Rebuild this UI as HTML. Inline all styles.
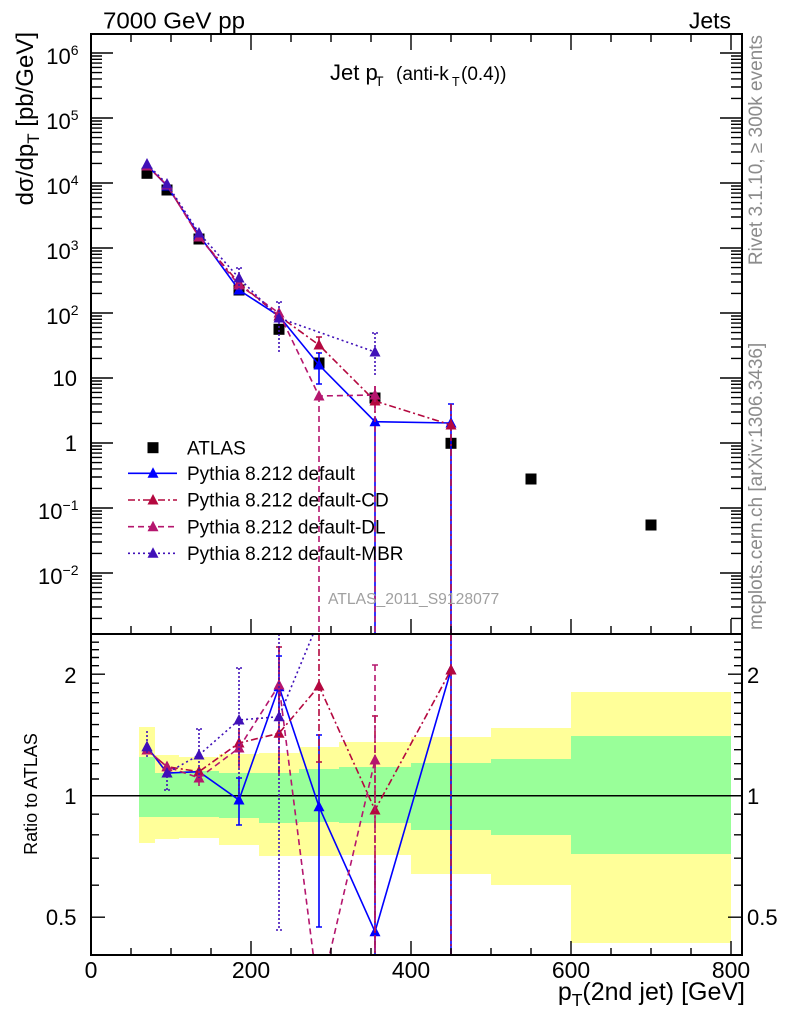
<!DOCTYPE html>
<html>
<head>
<meta charset="utf-8">
<style>
html,body{margin:0;padding:0;background:#fff;}
svg{display:block;}
</style>
</head>
<body>
<svg width="786" height="1024" viewBox="0 0 786 1024" xmlns="http://www.w3.org/2000/svg" xmlns:xlink="http://www.w3.org/1999/xlink" font-family="'Liberation Sans', Arial, sans-serif">
<defs>
  <clipPath id="cm"><rect x="91" y="34" width="651" height="600"/></clipPath>
  <clipPath id="cr"><rect x="91" y="634" width="651" height="321"/></clipPath>
  <path id="decL" d="M0 0h22M0 -19.6h11M0 -31h11M0 -39.1h11M0 -45.4h11M0 -50.6h11M0 -54.9h11M0 -58.7h11M0 -62h11" stroke="#000" stroke-width="1.4" fill="none"/>
  <path id="decR" d="M0 0h-22M0 -19.6h-11M0 -31h-11M0 -39.1h-11M0 -45.4h-11M0 -50.6h-11M0 -54.9h-11M0 -58.7h-11M0 -62h-11" stroke="#000" stroke-width="1.4" fill="none"/>
</defs>

<!-- ===== Ratio bands ===== -->
<g>
  <rect x="139" y="727" width="16" height="116" fill="#ffff99"/>
  <rect x="155" y="755" width="24" height="84" fill="#ffff99"/>
  <rect x="179" y="757" width="40" height="81" fill="#ffff99"/>
  <rect x="219" y="754" width="40" height="91" fill="#ffff99"/>
  <rect x="259" y="753" width="40" height="103" fill="#ffff99"/>
  <rect x="299" y="747" width="40" height="109" fill="#ffff99"/>
  <rect x="339" y="742" width="72" height="113" fill="#ffff99"/>
  <rect x="411" y="737" width="80" height="137" fill="#ffff99"/>
  <rect x="491" y="728" width="80" height="157" fill="#ffff99"/>
  <rect x="571" y="692" width="160" height="251" fill="#ffff99"/>

  <rect x="139" y="757" width="16" height="60" fill="#99ff99"/>
  <rect x="155" y="773" width="24" height="44" fill="#99ff99"/>
  <rect x="179" y="771" width="40" height="46" fill="#99ff99"/>
  <rect x="219" y="773" width="40" height="45" fill="#99ff99"/>
  <rect x="259" y="773" width="40" height="50" fill="#99ff99"/>
  <rect x="299" y="769" width="40" height="53" fill="#99ff99"/>
  <rect x="339" y="767" width="72" height="56" fill="#99ff99"/>
  <rect x="411" y="763" width="80" height="67" fill="#99ff99"/>
  <rect x="491" y="759" width="80" height="76" fill="#99ff99"/>
  <rect x="571" y="736" width="160" height="118" fill="#99ff99"/>
</g>
<line x1="91" y1="795.7" x2="742" y2="795.7" stroke="#000" stroke-width="1.5"/>

<!-- ===== Main panel series ===== -->
<g clip-path="url(#cm)" fill="none" stroke-width="1.6">
  <g fill="#000" stroke="none">
    <rect x="141.5" y="167.8" width="11" height="11"/>
    <rect x="161.5" y="184.5" width="11" height="11"/>
    <rect x="193.5" y="233.5" width="11" height="11"/>
    <rect x="233.5" y="284.5" width="11" height="11"/>
    <rect x="273.5" y="323.8" width="11" height="11"/>
    <rect x="313.5" y="357.5" width="11" height="11"/>
    <rect x="369.5" y="392.5" width="11" height="11"/>
    <rect x="445.5" y="437.8" width="11" height="11"/>
    <rect x="525.5" y="473.5" width="11" height="11"/>
    <rect x="645.5" y="519.5" width="11" height="11"/>
  </g>
  <path d="M147 165L167 186L199 235L239 290L279 316L319 365L375 421.7L451 423" stroke="#0000ff"/>
  <path d="M319 353V384M316 353h6M316 384h6M375 421V634M451 404V634M448 404h6" stroke="#0000ff"/>
  <path d="M147 159l5.5 10.5h-11zM167 180l5.5 10.5h-11zM199 229l5.5 10.5h-11zM239 284l5.5 10.5h-11zM279 310l5.5 10.5h-11zM319 359l5.5 10.5h-11zM375 415.7l5.5 10.5h-11zM451 417l5.5 10.5h-11z" fill="#0000ff" stroke="none"/>
  <path d="M147 166L167 185L199 237L239 283L279 316L319 345L375 401L451 425" stroke="#b4083f" stroke-dasharray="7,3,2,3"/>
  <path d="M319 337V353M316 337h6M375 386V416M451 404V634" stroke="#b4083f" stroke-dasharray="7,3,2,3"/>
  <path d="M147 160l5.5 10.5h-11zM167 179l5.5 10.5h-11zM199 231l5.5 10.5h-11zM239 277l5.5 10.5h-11zM279 310l5.5 10.5h-11zM319 339l5.5 10.5h-11zM375 395l5.5 10.5h-11zM451 419l5.5 10.5h-11z" fill="#b4083f" stroke="none"/>
  <path d="M147 166L167 185L199 237L239 285L279 313L319 396L375 395" stroke="#b5166e" stroke-dasharray="6,4"/>
  <path d="M319 396V634M375 386V634" stroke="#b5166e" stroke-dasharray="6,4"/>
  <path d="M147 160l5.5 10.5h-11zM167 179l5.5 10.5h-11zM199 231l5.5 10.5h-11zM239 279l5.5 10.5h-11zM279 307l5.5 10.5h-11zM319 390l5.5 10.5h-11zM375 389l5.5 10.5h-11z" fill="#b5166e" stroke="none"/>
  <path d="M147 164L167 184L199 233L239 278L279 318L375 352" stroke="#4010b8" stroke-dasharray="2,3"/>
  <path d="M239 268V290M236 268h6M279 302V352M276 302h6M375 333V377M372 333h6" stroke="#4010b8" stroke-dasharray="2,2"/>
  <path d="M147 158l5.5 10.5h-11zM167 178l5.5 10.5h-11zM199 227l5.5 10.5h-11zM239 272l5.5 10.5h-11zM279 312l5.5 10.5h-11zM375 346l5.5 10.5h-11z" fill="#4010b8" stroke="none"/>
</g>

<!-- ===== Ratio panel series ===== -->
<g clip-path="url(#cr)" fill="none" stroke-width="1.6">
  <path d="M147 746.7L167 773L199 771.7L239 800L279 686.7L319 806.7L375 931.7L451 670" stroke="#0000ff"/>
  <path d="M239 778V825M236 778h6M236 825h6M279 656V717M276 656h6M319 735V927M316 735h6M316 927h6M375 860V955M451 634V955" stroke="#0000ff"/>
  <path d="M147 740.7l5.5 10.5h-11zM167 767l5.5 10.5h-11zM199 765.7l5.5 10.5h-11zM239 794l5.5 10.5h-11zM279 680.7l5.5 10.5h-11zM319 800.7l5.5 10.5h-11zM375 925.7l5.5 10.5h-11zM451 664l5.5 10.5h-11z" fill="#0000ff" stroke="none"/>
  <path d="M147 750L167 766.7L199 771.7L239 743L279 733.3L319 686L375 810L451 670" stroke="#b4083f" stroke-dasharray="7,3,2,3"/>
  <path d="M239 728V765M279 647V777M276 647h6M319 634V762M316 762h6M375 716V955M372 716h6M451 634V955" stroke="#b4083f" stroke-dasharray="7,3,2,3"/>
  <path d="M147 744l5.5 10.5h-11zM167 760.7l5.5 10.5h-11zM199 765.7l5.5 10.5h-11zM239 737l5.5 10.5h-11zM279 727.3l5.5 10.5h-11zM319 680l5.5 10.5h-11zM375 804l5.5 10.5h-11zM451 664l5.5 10.5h-11z" fill="#b4083f" stroke="none"/>
  <path d="M147 750L167 766.7L199 778L239 748L279 685L319 1000L375 760" stroke="#b5166e" stroke-dasharray="6,4"/>
  <path d="M199 770V786M239 732V770M279 647V777M375 665V955M372 665h6" stroke="#b5166e" stroke-dasharray="6,4"/>
  <path d="M147 744l5.5 10.5h-11zM167 760.7l5.5 10.5h-11zM199 772l5.5 10.5h-11zM239 742l5.5 10.5h-11zM279 679l5.5 10.5h-11zM375 754l5.5 10.5h-11z" fill="#b5166e" stroke="none"/>
  <path d="M147 746.7L167 773L199 755L239 720L279 716.7L319 620L375 480" stroke="#4010b8" stroke-dasharray="2,3"/>
  <path d="M147 731V758M167 768V790M164 790h6M199 729V778M196 729h6M239 668V797M236 668h6M279 634V930M276 930h6" stroke="#4010b8" stroke-dasharray="2,2"/>
  <path d="M147 740.7l5.5 10.5h-11zM167 767l5.5 10.5h-11zM199 749l5.5 10.5h-11zM239 714l5.5 10.5h-11zM279 710.7l5.5 10.5h-11z" fill="#4010b8" stroke="none"/>
</g>

<!-- ===== Ticks ===== -->
<g clip-path="url(#cm)">
  <use xlink:href="#decL" href="#decL" x="91" y="638"/>
  <use xlink:href="#decL" href="#decL" x="91" y="573"/>
  <use xlink:href="#decL" href="#decL" x="91" y="508"/>
  <use xlink:href="#decL" href="#decL" x="91" y="443"/>
  <use xlink:href="#decL" href="#decL" x="91" y="378"/>
  <use xlink:href="#decL" href="#decL" x="91" y="313"/>
  <use xlink:href="#decL" href="#decL" x="91" y="248"/>
  <use xlink:href="#decL" href="#decL" x="91" y="183"/>
  <use xlink:href="#decL" href="#decL" x="91" y="118"/>
  <use xlink:href="#decL" href="#decL" x="91" y="53"/>
  <use xlink:href="#decR" href="#decR" x="742" y="638"/>
  <use xlink:href="#decR" href="#decR" x="742" y="573"/>
  <use xlink:href="#decR" href="#decR" x="742" y="508"/>
  <use xlink:href="#decR" href="#decR" x="742" y="443"/>
  <use xlink:href="#decR" href="#decR" x="742" y="378"/>
  <use xlink:href="#decR" href="#decR" x="742" y="313"/>
  <use xlink:href="#decR" href="#decR" x="742" y="248"/>
  <use xlink:href="#decR" href="#decR" x="742" y="183"/>
  <use xlink:href="#decR" href="#decR" x="742" y="118"/>
  <use xlink:href="#decR" href="#decR" x="742" y="53"/>
</g>
<g stroke="#000" stroke-width="1.4" fill="none">
  <path d="M251 34v16M411 34v16M571 34v16M731 34v16M131 34v8M171 34v8M211 34v8M291 34v8M331 34v8M371 34v8M451 34v8M491 34v8M531 34v8M611 34v8M651 34v8M691 34v8"/>
  <path d="M251 634v-15M411 634v-15M571 634v-15M731 634v-15M131 634v-8M171 634v-8M211 634v-8M291 634v-8M331 634v-8M371 634v-8M451 634v-8M491 634v-8M531 634v-8M611 634v-8M651 634v-8M691 634v-8"/>
  <path d="M251 955v-14M411 955v-14M571 955v-14M731 955v-14M131 955v-7M171 955v-7M211 955v-7M291 955v-7M331 955v-7M371 955v-7M451 955v-7M491 955v-7M531 955v-7M611 955v-7M651 955v-7M691 955v-7"/>
  <path d="M91 674.2h14M91 795.7h14M91 917.2h14M91 885.2h8M91 858.2h8M91 834.8h8M91 814.2h8M91 779h8M91 763.7h8M91 749.7h8M91 736.7h8M91 724.6h8M91 713.3h8M91 702.7h8M91 692.7h8M91 683.2h8M91 665.7h8M91 657.5h8M91 649.7h8M91 642.2h8"/>
  <path d="M742 674.2h-14M742 795.7h-14M742 917.2h-14M742 885.2h-8M742 858.2h-8M742 834.8h-8M742 814.2h-8M742 779h-8M742 763.7h-8M742 749.7h-8M742 736.7h-8M742 724.6h-8M742 713.3h-8M742 702.7h-8M742 692.7h-8M742 683.2h-8M742 665.7h-8M742 657.5h-8M742 649.7h-8M742 642.2h-8"/>
</g>

<!-- ===== Frames ===== -->
<rect x="91" y="34" width="651" height="600" fill="none" stroke="#000" stroke-width="2"/>
<rect x="91" y="634" width="651" height="321" fill="none" stroke="#000" stroke-width="2"/>

<!-- ===== Legend ===== -->
<rect x="147.5" y="442.2" width="11" height="11" fill="#000"/>
<line x1="128" y1="473.3" x2="177" y2="473.3" stroke="#0000ff" stroke-width="1.6"/>
<path d="M153 467.3l5.5 10.5h-11z" fill="#0000ff"/>
<line x1="128" y1="500" x2="177" y2="500" stroke="#b4083f" stroke-width="1.6" stroke-dasharray="7,3,2,3"/>
<path d="M153 494l5.5 10.5h-11z" fill="#b4083f"/>
<line x1="128" y1="526.7" x2="177" y2="526.7" stroke="#b5166e" stroke-width="1.6" stroke-dasharray="6,4"/>
<path d="M153 520.7l5.5 10.5h-11z" fill="#b5166e"/>
<line x1="128" y1="553.3" x2="177" y2="553.3" stroke="#4010b8" stroke-width="1.6" stroke-dasharray="2,3"/>
<path d="M153 547.3l5.5 10.5h-11z" fill="#4010b8"/>
<g font-size="19" fill="#000">
  <text x="187" y="454.5">ATLAS</text>
  <text x="187" y="480">Pythia 8.212 default</text>
  <text x="187" y="506.7">Pythia 8.212 default-CD</text>
  <text x="187" y="533.3">Pythia 8.212 default-DL</text>
  <text x="187" y="560">Pythia 8.212 default-MBR</text>
</g>
<text x="328" y="604" font-size="15.7" fill="#a0a0a0">ATLAS_2011_S9128077</text>

<!-- ===== Titles ===== -->
<text x="103" y="28.5" font-size="23" textLength="142" lengthAdjust="spacingAndGlyphs">7000 GeV pp</text>
<text x="731" y="28.5" font-size="23" text-anchor="end">Jets</text>
<text x="330" y="80" font-size="22">Jet p</text>
<text x="375" y="86" font-size="14">T</text>
<text x="396" y="80" font-size="19">(anti-k</text>
<text x="452" y="86" font-size="12.5">T</text>
<text x="461" y="80" font-size="19">(0.4))</text>

<!-- Y axis title -->
<text transform="translate(33,32) rotate(-90)" text-anchor="end" font-size="24">dσ/dp<tspan dy="6" font-size="17">T</tspan><tspan dy="-6"> [pb/GeV]</tspan></text>
<text transform="translate(37,794) rotate(-90)" text-anchor="middle" font-size="18">Ratio to ATLAS</text>

<!-- Right side gray texts -->
<text transform="translate(762,35) rotate(-90)" text-anchor="end" font-size="19" fill="#8c8c8c">Rivet 3.1.10, ≥ 300k events</text>
<text transform="translate(762,630) rotate(-90)" text-anchor="start" font-size="19" fill="#8c8c8c">mcplots.cern.ch [arXiv:1306.3436]</text>

<!-- Y tick labels main -->
<g font-size="22" text-anchor="end" fill="#000">
  <text x="78.5" y="64">10<tspan dy="-9" font-size="14">6</tspan></text>
  <text x="78.5" y="129">10<tspan dy="-9" font-size="14">5</tspan></text>
  <text x="78.5" y="194">10<tspan dy="-9" font-size="14">4</tspan></text>
  <text x="78.5" y="259">10<tspan dy="-9" font-size="14">3</tspan></text>
  <text x="78.5" y="324">10<tspan dy="-9" font-size="14">2</tspan></text>
  <text x="77" y="386">10</text>
  <text x="77" y="451">1</text>
  <text x="78.5" y="519">10<tspan dy="-9" font-size="14">−1</tspan></text>
  <text x="78.5" y="584">10<tspan dy="-9" font-size="14">−2</tspan></text>
</g>
<!-- Ratio labels -->
<g font-size="22" fill="#000">
  <text x="76.5" y="683" text-anchor="end">2</text>
  <text x="76.5" y="804" text-anchor="end">1</text>
  <text x="76.5" y="925" text-anchor="end">0.5</text>
  <text x="747" y="683">2</text>
  <text x="747" y="804">1</text>
  <text x="747" y="925">0.5</text>
</g>
<!-- X tick labels -->
<g font-size="23" text-anchor="middle" fill="#000">
  <text x="91" y="978">0</text>
  <text x="251" y="978">200</text>
  <text x="411" y="978">400</text>
  <text x="571" y="978">600</text>
  <text x="731" y="978">800</text>
</g>
<text x="745" y="1000" font-size="25" text-anchor="end">p<tspan dy="6" font-size="17.5">T</tspan><tspan dy="-6">(2nd jet) [GeV]</tspan></text>
</svg>
</body>
</html>
